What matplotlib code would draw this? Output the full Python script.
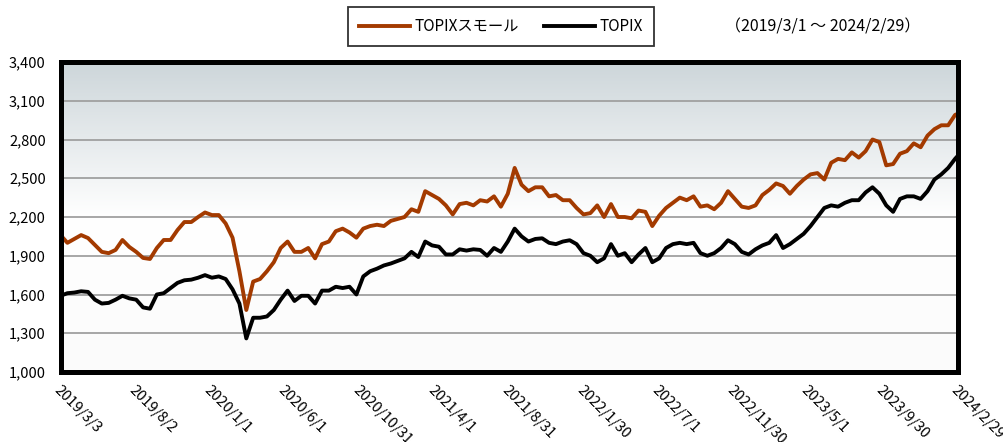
import numpy as np
import pandas as pd
import matplotlib
matplotlib.use("Agg")
import matplotlib.pyplot as plt
from matplotlib.colors import LinearSegmentedColormap

plt.rcParams['font.family'] = ['Noto Sans CJK JP', 'DejaVu Sans']

# 2週間ごとの読み取り値 (2019/3/1 から) + 最終日 2024/2/29
small_vals = [
    2060, 2000, 2030, 2060, 2037, 1983, 1930, 1920, 1945, 2022,
    1968, 1930, 1883, 1875, 1960, 2022, 2022, 2099, 2161, 2161,
    2200, 2235, 2215, 2215, 2150, 2040, 1780, 1480, 1700, 1720,
    1780, 1850, 1960, 2010, 1930, 1930, 1960, 1880, 1990, 2010,
    2090, 2110, 2080, 2040, 2110, 2130, 2140, 2130, 2170, 2185,
    2200, 2260, 2240, 2400, 2370, 2340, 2290, 2220, 2300, 2310,
    2290, 2330, 2320, 2360, 2280, 2380, 2580, 2450, 2400, 2430,
    2430, 2360, 2370, 2330, 2330, 2270, 2220, 2230, 2290, 2200,
    2300, 2200, 2200, 2190, 2250, 2240, 2130, 2210, 2270, 2310,
    2350, 2330, 2360, 2280, 2290, 2260, 2310, 2400, 2340, 2280,
    2270, 2290, 2370, 2410, 2460, 2440, 2380, 2440, 2490, 2530,
    2540, 2490, 2620, 2650, 2640, 2700, 2660, 2710, 2800, 2780,
    2600, 2610, 2690, 2710, 2770, 2740, 2830, 2880, 2910, 2910,
    2990, 3000,
]
topix_vals = [
    1590, 1610, 1615, 1625, 1620, 1560, 1530, 1535, 1560, 1590,
    1570, 1560, 1500, 1490, 1600, 1610, 1650, 1690, 1710, 1715,
    1730, 1750, 1730, 1740, 1720, 1640, 1530, 1260, 1420, 1420,
    1430, 1480, 1560, 1630, 1550, 1590, 1590, 1530, 1630, 1630,
    1660, 1650, 1660, 1600, 1740, 1780, 1800, 1825, 1840, 1860,
    1880, 1930, 1890, 2010, 1980, 1970, 1910, 1910, 1950, 1940,
    1950, 1945, 1900, 1960, 1930, 2010, 2110, 2050, 2010, 2030,
    2035, 2000, 1990, 2010, 2020, 1990, 1920, 1900, 1850, 1880,
    1990, 1900, 1920, 1850, 1910, 1960, 1850, 1880, 1960, 1990,
    2000, 1990, 2000, 1920, 1900, 1920, 1960, 2020, 1990, 1930,
    1910, 1950, 1980, 2000, 2060, 1960, 1990, 2030, 2070, 2130,
    2200, 2270, 2290, 2280, 2310, 2330, 2330, 2390, 2430, 2380,
    2290, 2240, 2340, 2360, 2360, 2340, 2400, 2490, 2530, 2580,
    2650, 2675,
]
dates = list(pd.date_range("2019-03-01", periods=131, freq="14D")) + [pd.Timestamp("2024-02-29")]

tick_labels = ["2019/3/3", "2019/8/2", "2020/1/1", "2020/6/1", "2020/10/31",
               "2021/4/1", "2021/8/31", "2022/1/30", "2022/7/1", "2022/11/30",
               "2023/5/1", "2023/9/30", "2024/2/29"]
y_ticks = [1000, 1300, 1600, 1900, 2200, 2500, 2800, 3100, 3400]

orange = "#a33a00"

fig = plt.figure(figsize=(10.04, 4.42), dpi=100)
ax = fig.add_axes([61 / 1004, 1 - 372 / 442, 897 / 1004, 310 / 442])

# 背景のグラデーション
grad = np.linspace(0, 1, 256).reshape(-1, 1)
cmap = LinearSegmentedColormap.from_list("bg", ["#fbfbfb", "#ffffff", "#cdd6da"])
ax.imshow(grad, extent=[0, 1, 0, 1], transform=ax.transAxes, aspect="auto",
          cmap=cmap, origin="lower", zorder=0)

for v in y_ticks[1:-1]:
    ax.axhline(v, color="#a0a0a0", lw=1.3, zorder=1)

ax.plot(dates, small_vals, color=orange, lw=2.8, zorder=3, label="TOPIXスモール")
ax.plot(dates, topix_vals, color="black", lw=2.8, zorder=3, label="TOPIX")

ax.set_xlim(pd.Timestamp("2019-03-02"), pd.Timestamp("2024-02-29"))
ax.set_ylim(1000, 3400)
ax.set_yticks(y_ticks)
ax.set_yticklabels([f"{v:,}" for v in y_ticks], fontsize=10.5)
ax.set_xticks(pd.to_datetime(tick_labels, format="%Y/%m/%d"))
ax.set_xticklabels(tick_labels, fontsize=10.5, rotation=-45, ha="left", va="top",
                   rotation_mode="anchor")
ax.tick_params(axis="y", length=0, pad=11)
ax.tick_params(axis="x", length=0, pad=8)

for s in ax.spines.values():
    s.set_linewidth(3.6)
    s.set_color("black")
    s.set_zorder(5)

leg = fig.legend(loc="center", bbox_to_anchor=(501 / 1004, 1 - 26.5 / 442), ncol=2,
                 fontsize=11, frameon=True, fancybox=False, handlelength=3.3,
                 handletextpad=0.3, columnspacing=1.7, borderpad=0.75)
leg.get_frame().set_edgecolor("black")
leg.get_frame().set_linewidth(1.3)
for line in leg.get_lines():
    line.set_linewidth(2.8)

fig.text(823 / 1004, 1 - 27 / 442, "（2019/3/1 ～ 2024/2/29）", fontsize=11.5,
         ha="center", va="center")

fig.savefig("out.png", dpi=100)
